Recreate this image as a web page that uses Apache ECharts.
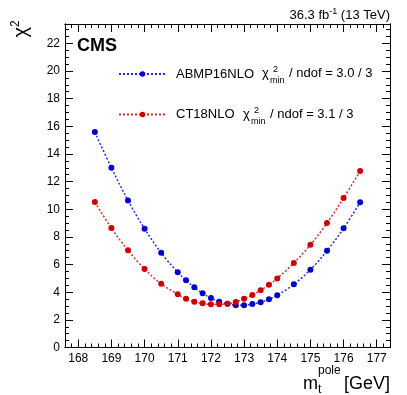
<!DOCTYPE html>
<html><head><meta charset="utf-8">
<script src="https://cdn.jsdelivr.net/npm/echarts@6/dist/echarts.min.js"></script>
<style>html,body{margin:0;padding:0;background:#fff}#c{width:407px;height:395px}</style>
</head><body><div id="c"></div>
<script>
// ---- data ----
const mtPole = [168.5, 169, 169.5, 170, 170.5, 171, 171.25, 171.5, 171.75, 172, 172.25, 172.5, 172.75, 173, 173.25, 173.5, 173.75, 174, 174.5, 175, 175.5, 176, 176.5];
const chi2ABMP16 = [15.58, 13.00, 10.64, 8.59, 6.85, 5.44, 4.86, 4.35, 3.92, 3.58, 3.31, 3.17, 3.05, 3.05, 3.15, 3.27, 3.49, 3.78, 4.57, 5.63, 7.00, 8.62, 10.50];
const chi2CT18 = [10.52, 8.64, 7.03, 5.68, 4.61, 3.85, 3.53, 3.31, 3.20, 3.12, 3.12, 3.17, 3.29, 3.53, 3.80, 4.14, 4.54, 5.00, 6.11, 7.43, 9.00, 10.81, 12.76];
const seriesNames = ['ABMP16NLO', 'CT18NLO'];
const chi2MinNdof = ['3.0 / 3', '3.1 / 3'];
const xTickLabels = [168, 169, 170, 171, 172, 173, 174, 175, 176, 177];
const yTickLabels = [0, 2, 4, 6, 8, 10, 12, 14, 16, 18, 20, 22];

// ---- axis ranges / style ----
const X_MIN = 167.6, X_MAX = 177.4, Y_MIN = 0, Y_MAX = 23.4;
const X_MINOR_STEP = 0.2, Y_MINOR_STEP = 0.5;
const FONT = '"Liberation Sans", Arial, Helvetica, sans-serif';
const BLUE = '#0000cc', BLUE_LINE = '#2a2ae6';
const RED = '#cc0000', RED_LINE = '#e02a2a';

function minorTicks(majors, step, lo, hi) {
  const out = [];
  const start = majors[0] - Math.floor((majors[0] - lo) / step + 1e-9) * step;
  for (let k = 0; ; k++) {
    const v = +(start + k * step).toFixed(6);
    if (v > hi + 1e-9) break;
    if (v >= lo - 1e-9) out.push(v);
  }
  return out;
}
const xMinor = minorTicks(xTickLabels, X_MINOR_STEP, X_MIN, X_MAX);
const yMinor = minorTicks(yTickLabels, Y_MINOR_STEP, Y_MIN, Y_MAX);

function axis(kind, pos, ticks, len, labels) {
  return {
    type: 'value', position: pos,
    min: kind === 'x' ? X_MIN : Y_MIN, max: kind === 'x' ? X_MAX : Y_MAX,
    axisLine: { show: true, onZero: false, lineStyle: { color: '#000', width: 1 } },
    axisTick: { show: true, inside: true, length: len, customValues: ticks, lineStyle: { color: '#000', width: 1 } },
    axisLabel: { show: !!labels, customValues: ticks, color: '#000', fontSize: 12, fontFamily: FONT, margin: 5 },
    splitLine: { show: false }, minorTick: { show: false }
  };
}

const chart = echarts.init(document.getElementById('c'), null, { renderer: 'canvas' });

function legendDef(name, top) {
  return {
    data: [name], left: 118, top: top, orient: 'horizontal', padding: 0,
    itemWidth: 47, itemHeight: 7, itemGap: 0,
    textStyle: { color: '#000', fontSize: 13, fontFamily: FONT, padding: [0, 0, 0, 5] },
    selectedMode: false
  };
}

function chiText(xChi, yc, value) {
  return [
    { type: 'text', x: xChi, y: yc, style: { text: 'χ', font: '13px ' + FONT, fill: '#000', textVerticalAlign: 'middle' } },
    { type: 'text', x: xChi + 11, y: yc - 4, style: { text: '2', font: '9px ' + FONT, fill: '#000', textVerticalAlign: 'middle' } },
    { type: 'text', x: xChi + 8, y: yc + 7, style: { text: 'min', font: '9px ' + FONT, fill: '#000', textVerticalAlign: 'middle' } },
    { type: 'text', x: xChi + 27, y: yc, style: { text: '/ ndof = ' + value, font: '13px ' + FONT, fill: '#000', textVerticalAlign: 'middle' } }
  ];
}

const option = {
  backgroundColor: '#fff',
  animation: false,
  grid: { left: 65, right: 17, top: 24, bottom: 47.5, containLabel: false },
  xAxis: [
    axis('x', 'bottom', xTickLabels, 8, true),
    axis('x', 'bottom', xMinor, 4, false),
    axis('x', 'top', xTickLabels, 8, false),
    axis('x', 'top', xMinor, 4, false)
  ],
  yAxis: [
    axis('y', 'left', yTickLabels, 8, true),
    axis('y', 'left', yMinor, 4, false),
    axis('y', 'right', yTickLabels, 8, false),
    axis('y', 'right', yMinor, 4, false)
  ],
  legend: [legendDef(seriesNames[0], 67.5), legendDef(seriesNames[1], 108)],
  series: [
    {
      name: seriesNames[0], type: 'line', xAxisIndex: 0, yAxisIndex: 0,
      data: mtPole.map((x, i) => [x, chi2ABMP16[i]]),
      smooth: 0.4, symbol: 'circle', symbolSize: 6, showAllSymbol: true,
      itemStyle: { color: BLUE }, lineStyle: { color: BLUE_LINE, width: 1.5, type: [2, 2] }
    },
    {
      name: seriesNames[1], type: 'line', xAxisIndex: 0, yAxisIndex: 0,
      data: mtPole.map((x, i) => [x, chi2CT18[i]]),
      smooth: 0.4, symbol: 'circle', symbolSize: 6, showAllSymbol: true,
      itemStyle: { color: RED }, lineStyle: { color: RED_LINE, width: 1.5, type: [2, 2] }
    }
  ],
  graphic: [
    { type: 'text', x: 390, y: 15, style: { text: '36.3 fb{sup|-1} (13 TeV)', font: '13px ' + FONT, fill: '#000', textAlign: 'right', textVerticalAlign: 'middle',
        rich: { sup: { fontSize: 9, verticalAlign: 'top', lineHeight: 15, fontFamily: FONT } } } },
    { type: 'text', x: 77, y: 46, style: { text: 'CMS', font: 'bold 18px ' + FONT, fill: '#000', textVerticalAlign: 'middle' } },
    { type: 'text', x: 21, y: 29, rotation: Math.PI / 2, style: { text: 'χ{sup|2}', font: '20px ' + FONT, fill: '#000', textAlign: 'center', textVerticalAlign: 'middle',
        rich: { sup: { fontSize: 12, verticalAlign: 'top', lineHeight: 22, fontFamily: FONT } } } },
    // x axis title
    { type: 'text', x: 303, y: 384, style: { text: 'm', font: '18px ' + FONT, fill: '#000', textVerticalAlign: 'middle' } },
    { type: 'text', x: 318, y: 390, style: { text: 't', font: '12px ' + FONT, fill: '#000', textVerticalAlign: 'middle' } },
    { type: 'text', x: 318, y: 371, style: { text: 'pole', font: '12px ' + FONT, fill: '#000', textVerticalAlign: 'middle' } },
    { type: 'text', x: 390, y: 384, style: { text: '[GeV]', font: '18px ' + FONT, fill: '#000', textAlign: 'right', textVerticalAlign: 'middle' } },
    ...chiText(262, 73.7, chi2MinNdof[0]),
    ...chiText(243, 114.3, chi2MinNdof[1])
  ]
};
chart.setOption(option);
</script>
</body></html>
